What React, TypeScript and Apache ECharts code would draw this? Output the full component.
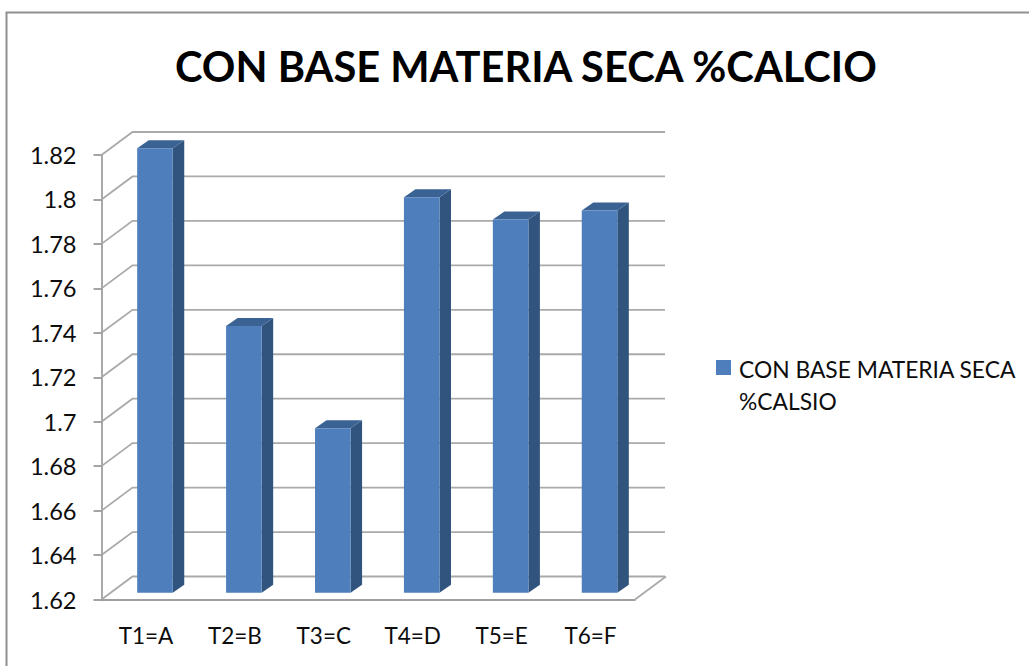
import React, { useEffect, useRef } from "react";
import * as echarts from "echarts";

const titleText = "CON BASE MATERIA SECA %CALCIO";
const seriesName = "CON BASE MATERIA SECA\n%CALSIO";
const categories = ["T1=A", "T2=B", "T3=C", "T4=D", "T5=E", "T6=F"];
const calcioValues = [1.82, 1.74, 1.694, 1.798, 1.788, 1.792];
const yTicks = [1.62, 1.64, 1.66, 1.68, 1.7, 1.72, 1.74, 1.76, 1.78, 1.8, 1.82];

const FONT = "Lato, Carlito, sans-serif";
const TEXT = "#0d0d0d";
const WALL_DX = 31;
const WALL_DY = -23;

// Gridlines: a diagonal up the side wall, then a run along the back wall.
function renderGridline(params: any, api: any) {
  const cs = params.coordSys;
  const p = api.coord([0, api.value(1)]);
  const x0 = cs.x;
  const y = p[1];
  const children: any[] = [
    {
      type: "polyline",
      shape: {
        points: [
          [x0, y],
          [x0 + WALL_DX, y + WALL_DY],
          [x0 + cs.width + WALL_DX - 1, y + WALL_DY],
        ],
      },
      style: { fill: "none", stroke: "#aaaaaa", lineWidth: 1.8 },
    },
  ];
  if (params.dataIndex === 0) {
    children.push({
      type: "line",
      shape: {
        x1: x0 + cs.width,
        y1: y,
        x2: x0 + cs.width + WALL_DX,
        y2: y + WALL_DY,
      },
      style: { stroke: "#aaaaaa", lineWidth: 1.8 },
    });
  }
  return { type: "group", children };
}

// Column with a front face, a shaded right side and a top cap, sitting on the floor.
function renderColumn(_params: any, api: any) {
  const top = api.coord([api.value(0), api.value(1)]);
  const base = api.coord([api.value(0), 1.62]);
  const w = api.size([1, 0])[0] * 0.4;
  const dx = 11.5;
  const dy = -8;
  const shiftX = 9;
  const shiftY = -6.7;
  const l = top[0] - w / 2 + shiftX;
  const r = l + w;
  const t = top[1] + shiftY;
  const b = base[1] + shiftY;
  return {
    type: "group",
    children: [
      {
        type: "polygon",
        shape: { points: [[r, t], [r + dx, t + dy], [r + dx, b + dy], [r, b]] },
        style: { fill: "#31547f" },
      },
      {
        type: "polygon",
        shape: { points: [[l, t], [l + dx, t + dy], [r + dx, t + dy], [r, t]] },
        style: { fill: "#3a6394" },
      },
      {
        type: "rect",
        shape: { x: l, y: t, width: w, height: b - t },
        style: { fill: "#4e7fbc" },
      },
    ],
  };
}

export default function App() {
  const ref = useRef<HTMLDivElement>(null);

  useEffect(() => {
    document.body.style.margin = "0";
    const chart = echarts.init(ref.current!, null, { renderer: "svg" });
    chart.setOption({
      animation: false,
      backgroundColor: "#ffffff",
      textStyle: { fontFamily: FONT },
      title: {
        text: titleText,
        left: 175,
        top: 45,
        padding: 0,
        textStyle: {
          fontFamily: FONT,
          fontSize: 41.6,
          fontWeight: "bold",
          color: "#000000",
        },
      },
      legend: {
        left: 716,
        top: 353,
        padding: 0,
        itemWidth: 18,
        itemHeight: 50,
        orient: "vertical",
        selectedMode: false,
        data: [
          {
            name: seriesName,
            icon: "path://M0 0H15V15H0ZM18 50L18 50",
          },
        ],
        textStyle: {
          fontFamily: FONT,
          fontSize: 22.8,
          lineHeight: 32,
          color: TEXT,
        },
      },
      grid: { left: 101.5, top: 155, width: 533.5, height: 444.5 },
      xAxis: {
        type: "category",
        data: categories,
        axisLine: { lineStyle: { color: "#a0a0a0", width: 1.8 } },
        axisTick: { length: 8, lineStyle: { color: "#868686", width: 1.5 } },
        axisLabel: {
          margin: 24,
          fontFamily: FONT,
          fontSize: 22.5,
          color: TEXT,
        },
      },
      yAxis: {
        type: "value",
        min: 1.62,
        max: 1.82,
        interval: 0.02,
        axisLine: { show: true, lineStyle: { color: "#a0a0a0", width: 1.8 } },
        axisTick: { show: true, length: 8, lineStyle: { color: "#868686", width: 1.5 } },
        splitLine: { show: false },
        axisLabel: {
          margin: 25,
          padding: [4, 0, 0, 0],
          fontFamily: FONT,
          fontSize: 23.6,
          color: TEXT,
        },
      },
      graphic: [
        {
          type: "polyline",
          shape: { points: [[6.5, 666], [6.5, 12.5], [1029, 12.5]] },
          style: { fill: "none", stroke: "#8f8f8f", lineWidth: 2 },
        },
      ],
      series: [
        {
          type: "custom",
          name: "rejilla",
          coordinateSystem: "cartesian2d",
          silent: true,
          clip: false,
          z: 1,
          renderItem: renderGridline,
          data: yTicks.map((v) => [0, v]),
        },
        {
          type: "custom",
          name: seriesName,
          coordinateSystem: "cartesian2d",
          silent: true,
          clip: false,
          z: 3,
          itemStyle: { color: "#4e7fbc", borderWidth: 0 },
          renderItem: renderColumn,
          data: calcioValues.map((v, i) => [i, v]),
        },
      ],
    });
    return () => chart.dispose();
  }, []);

  return <div ref={ref} style={{ width: 1029, height: 666, display: "block" }} />;
}
